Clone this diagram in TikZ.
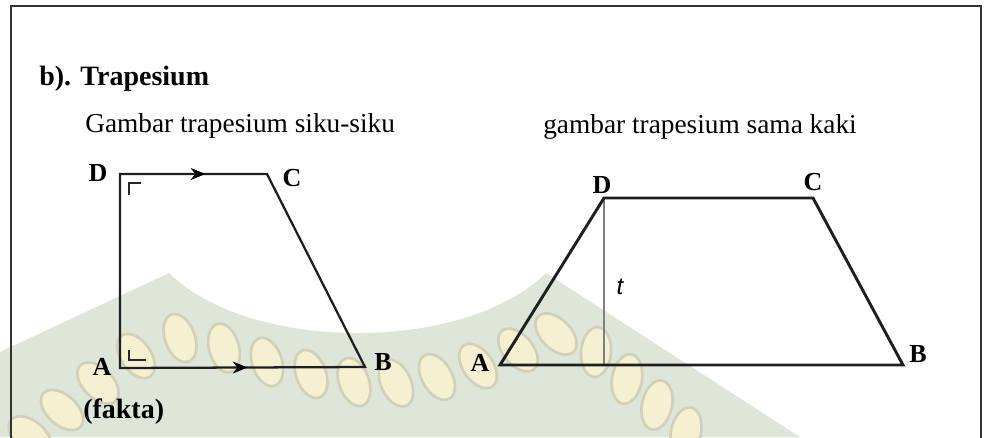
\documentclass[tikz,border=0pt]{standalone}
\usepackage{fontspec}
\setmainfont{Liberation Serif}
\newfontfamily\arialfont{Liberation Sans}
\usetikzlibrary{arrows.meta, decorations.markings}
\definecolor{wmgreen}{HTML}{DEE6DA}
\definecolor{wmleaf}{HTML}{F6F0D2}
\definecolor{wmrim}{HTML}{D3D0BA}
\definecolor{framegray}{HTML}{333333}

\begin{document}
\begin{tikzpicture}[x=0.75pt, y=-0.75pt, >=Stealth,
		body/.style={anchor=base west, inner sep=0pt, font=\fontsize{20.5}{24}\selectfont},
		heading/.style={anchor=base west, inner sep=0pt, font=\fontsize{21}{24}\selectfont\bfseries},
		vlabel/.style={inner sep=0pt, font=\fontsize{19.5}{22}\selectfont\bfseries},
		sidethin/.style={draw=black!88, line width=1.7pt, line join=miter},
		sidethick/.style={draw=black!88, line width=2.2pt, line join=miter},
		corner/.style={draw=black!85, line width=1.9pt},
		midarrow/.style={postaction={decorate}, decoration={markings,
			mark=at position #1 with {\arrow{Stealth[length=11pt, width=9pt]}}}},
		leaf/.style={fill=wmleaf, draw=wmrim, line width=2pt}]
		
		\clip (0,0) rectangle (984,437);
		
		% Latar (watermark)
		\fill[wmgreen] (0,352) -- (169,273) .. controls (250,353) and (465,353) .. (546,273)
			-- (800,437) -- (0,437) -- cycle;
		\foreach \lx/\ly/\la in {30/436/50, 62/410/48, 98/383/45, 136/356/35, 180/338/20,
				224/348/15, 267/362/18, 311/374/20, 354/382/20, 396/383/25, 437/377/30,
				478/366/35, 518/350/40, 556/334/45, 596/352/-5, 627/379/-10, 657/405/-12, 686/432/-12}
			\draw[leaf, rotate around={\la:(\lx,\ly)}] (\lx,\ly) ellipse (15 and 25);
		
		% Bingkai
		\draw[framegray, line width=1.5pt] (11,445) -- (11,6) -- (981,6) -- (981,445);
		
		% Judul
		\node[heading] (judul) at (39,85) {b). Trapesium};
		\node[body] (capsiku) at (85,132) {Gambar trapesium siku-siku};
		\node[body] (capsama) at (543,133) {gambar trapesium sama kaki};
		\node[heading] (fakta) at (83,418) {(fakta)};
		
		% Trapesium siku-siku
		\coordinate (lA) at (120,368);
		\coordinate (lB) at (365,367);
		\coordinate (lC) at (267,174);
		\coordinate (lD) at (120,174);
		\draw[sidethin] (lA) -- (lD) -- (lC) -- (lB) -- cycle;
		\path[midarrow=0.58] (lD) -- (lC);
		\path[midarrow=0.52] (lA) -- (lB);
		\draw[corner] (lD) ++(9,21) -- ++(0,-12) -- ++(12,0);
		\draw[corner] (lA) ++(9,-18) -- ++(0,10) -- ++(17,0);
		\node[vlabel] (labelDl) at (98,173) {D};
		\node[vlabel] (labelCl) at (292,178) {C};
		\node[vlabel] (labelAl) at (102,367) {A};
		\node[vlabel] (labelBl) at (383,362) {B};
		
		% Trapesium sama kaki
		\coordinate (rA) at (500,365);
		\coordinate (rB) at (903,365);
		\coordinate (rC) at (813,198);
		\coordinate (rD) at (604,198);
		\coordinate (rT) at (604,365);
		\draw[black!50, line width=0.9pt] (rD) -- (rT);
		\draw[sidethick] (rA) -- (rD) -- (rC) -- (rB) -- cycle;
		\node[inner sep=0pt, font=\arialfont\itshape\fontsize{18}{21}\selectfont] (tinggi) at (620,287) {t};
		\node[vlabel] (labelDr) at (602,185) {D};
		\node[vlabel] (labelCr) at (813,182) {C};
		\node[vlabel] (labelAr) at (480,363) {A};
		\node[vlabel] (labelBr) at (918,354) {B};
		
	\end{tikzpicture}
\end{document}
